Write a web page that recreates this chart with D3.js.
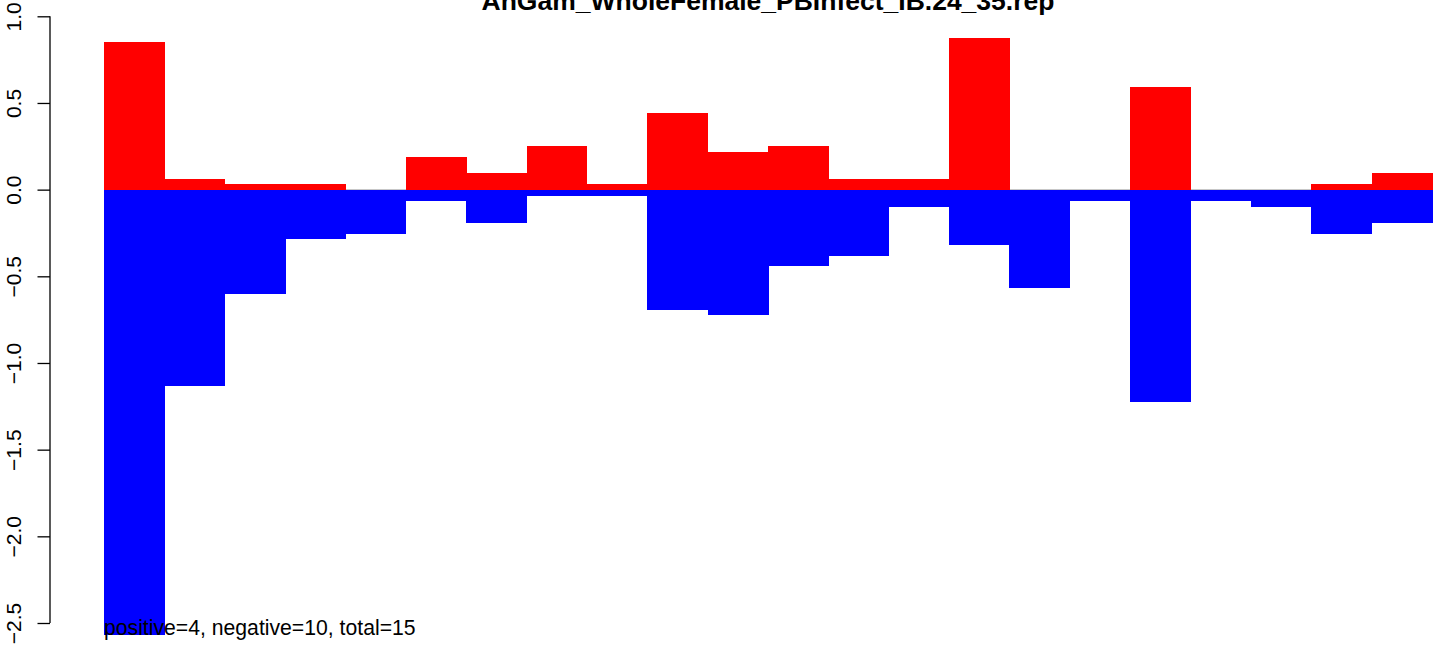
<!DOCTYPE html>
<html>
<head>
<meta charset="utf-8">
<script src="https://cdn.jsdelivr.net/npm/d3@7"></script>
<style>
  html, body { margin: 0; padding: 0; background: #fff; }
  svg { display: block; }
  text { font-family: "Liberation Sans", Arial, sans-serif; }
  rect { shape-rendering: crispEdges; }
</style>
</head>
<body>
<svg id="chart" width="1444" height="645"></svg>
<script>
// ---- data ----
const title = "AnGam_WholeFemale_PBInfect_IB.24_35.rep";
const categories = d3.range(1, 23).map(String);
const positiveValues = [0.85, 0.06, 0.03, 0.03, 0, 0.19, 0.095, 0.25, 0.035, 0.44, 0.22, 0.25,
                        0.06, 0.06, 0.875, 0, 0, 0.59, 0, 0, 0.03, 0.095];
const negativeValues = [-2.57, -1.13, -0.60, -0.285, -0.255, -0.065, -0.19, -0.035, -0.035, -0.695, -0.725, -0.44,
                        -0.38, -0.10, -0.32, -0.57, -0.065, -1.225, -0.065, -0.10, -0.255, -0.19];
const yTicks = [-2.5, -2.0, -1.5, -1.0, -0.5, 0.0, 0.5, 1.0];
const footnote = "positive=4, negative=10, total=15";

// ---- layout ----
const svg = d3.select("#chart");
const x = d3.scaleBand().domain(categories).range([104, 1432]).padding(0);
const y = d3.scaleLinear().domain([-2.5, 1.0]).range([623, 16.3]);

// zero reference line
svg.append("line")
  .attr("x1", x.range()[0]).attr("x2", x.range()[1])
  .attr("y1", y(0)).attr("y2", y(0))
  .attr("stroke", "#bebebe").attr("stroke-width", 1);

// positive bars
svg.append("g").selectAll("rect").data(positiveValues).join("rect")
  .attr("x", (d, i) => x(categories[i]))
  .attr("width", x.bandwidth() + 0.5)
  .attr("y", d => y(Math.max(0, d)))
  .attr("height", d => Math.abs(y(d) - y(0)))
  .attr("fill", "#ff0000");

// negative bars
svg.append("g").selectAll("rect").data(negativeValues).join("rect")
  .attr("x", (d, i) => x(categories[i]))
  .attr("width", x.bandwidth() + 0.5)
  .attr("y", y(0))
  .attr("height", d => Math.abs(y(d) - y(0)))
  .attr("fill", "#0000ff");

// y axis
const fmt = v => d3.format(".1f")(v).replace("-", "\u2212");
const axis = d3.axisLeft(y).tickValues(yTicks).tickFormat(fmt).tickSize(12.5).tickPadding(0);
const gAxis = svg.append("g").attr("transform", "translate(50,0)").call(axis);
gAxis.select(".domain").attr("stroke", "#000").attr("stroke-width", 1.3)
  .attr("d", `M0,${y(-2.5)}V${y(1.0)}`);
gAxis.selectAll(".tick line").attr("stroke", "#000").attr("stroke-width", 1.3);
gAxis.selectAll(".tick text").remove();
gAxis.selectAll(".tick").append("text")
  .attr("transform", "translate(-29,0) rotate(-90)")
  .attr("text-anchor", "middle")
  .attr("fill", "#000")
  .style("font-size", "21px")
  .style("font-family", "'Liberation Sans', Arial, sans-serif")
  .text(d => fmt(d));

// title (cut off at the top edge, as in the reference)
svg.append("text")
  .attr("x", (x.range()[0] + x.range()[1]) / 2)
  .attr("y", 10)
  .attr("text-anchor", "middle")
  .style("font-size", "26.5px")
  .style("font-weight", "bold")
  .text(title);

// footnote
svg.append("text")
  .attr("x", 104)
  .attr("y", 635)
  .style("font-size", "21.2px")
  .text(footnote);
</script>
</body>
</html>
